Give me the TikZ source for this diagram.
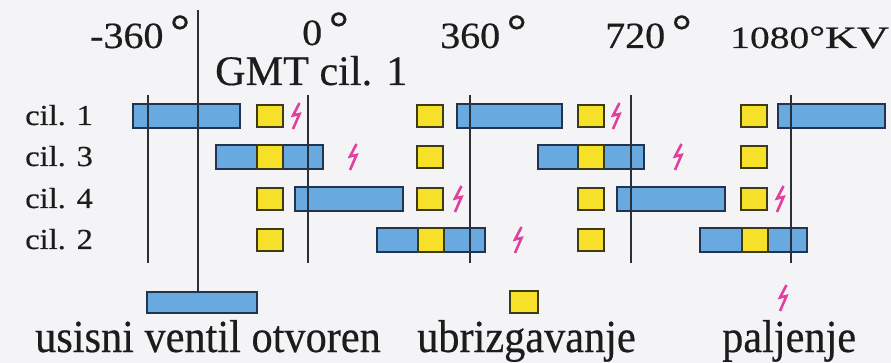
\documentclass[tikz,border=0pt]{standalone}
\usepackage{fontspec}
\setmainfont{Liberation Serif}
\newfontfamily\txtf{Liberation Serif}[FakeBold=0.45]
\definecolor{barblue}{RGB}{104,170,224}
\definecolor{barline}{RGB}{32,52,82}
\definecolor{injyellow}{RGB}{246,224,40}
\definecolor{injline}{RGB}{62,58,24}
\definecolor{boltpink}{RGB}{226,64,160}
\definecolor{axisline}{RGB}{40,48,60}
\definecolor{bgcol}{RGB}{244,244,246}
\definecolor{txt}{RGB}{28,28,28}
\newcommand{\dgr}{\raisebox{2pt}{\fontsize{46}{46}\selectfont °}}
\tikzset{
  valve/.style={rectangle, draw=barline, fill=barblue, line width=1.6pt,
    minimum width=#1, minimum height=24pt, inner sep=0pt},
  inj/.style={rectangle, draw=injline, fill=injyellow, line width=1.6pt,
    minimum width=26pt, minimum height=22pt, inner sep=0pt},
  injin/.style={inj, minimum height=24pt},
  bolt/.style={rectangle, minimum width=16pt, minimum height=32pt, inner sep=0pt,
    path picture={\begin{scope}[shift={(path picture bounding box.center)}, x=1pt, y=1pt]
      \draw[boltpink, line width=2.6pt, line join=miter]
        (3.5,13) -- (-3,0.5) -- (3.5,2) -- (-3,-13);
    \end{scope}}},
  axisln/.style={draw=axisline, line width=1.8pt},
  toplbl/.style={inner sep=0pt, anchor=base west, text=txt, xscale=1.08,
    font={\txtf\fontsize{37}{40}\selectfont}},
  rowlbl/.style={inner sep=0pt, anchor=base west, text=txt, xscale=1.12,
    font={\txtf\fontsize{29}{32}\selectfont}},
  leglbl/.style={inner sep=0pt, anchor=base west, text=txt, xscale=0.92,
    font={\txtf\fontsize{46}{50}\selectfont}}
}
\begin{document}
\begin{tikzpicture}[x=1pt,y=-1pt]
\fill[bgcol] (0,0) rectangle (891,363);
\useasboundingbox (0,0) rectangle (891,363);

% top labels
\node[toplbl] (lm360) at (90,48) {-360\,\dgr};
\node[toplbl, text depth=0pt] (l0) at (302,45) {0\,\dgr};
\node[toplbl, xscale=0.93, text height=28pt, font={\txtf\fontsize{42}{44}\selectfont}] (gmt) at (215,85) {GMT cil. 1};
\node[toplbl] (l360) at (440,48) {360\,\dgr};
\node[toplbl] (l720) at (605,48) {720\,\dgr};
\node[toplbl, xscale=1.18, font={\txtf\fontsize{31}{34}\selectfont}] (l1080) at (730,48) {1080\raisebox{1pt}{°}\scalebox{1.12}[1]{KV}};

% row labels
\node[rowlbl] (c1) at (25,125) {cil. 1};
\node[rowlbl] (c3) at (25,166) {cil. 3};
\node[rowlbl] (c4) at (25,208) {cil. 4};
\node[rowlbl] (c2) at (25,249) {cil. 2};

% cil. 1 (y=116)
\node[valve=107pt] (v1a) at (186.5,116) {};
\node[valve=105pt] (v1b) at (509.5,116) {};
\node[valve=107pt] (v1c) at (831.5,116) {};
\node[inj] (i1a) at (270,116) {};
\node[inj] (i1b) at (430,116) {};
\node[inj] (i1c) at (591,116) {};
\node[inj] (i1d) at (754,116) {};
\node[bolt] (z1a) at (296,116) {};
\node[bolt] (z1b) at (616,116) {};

% cil. 3 (y=157)
\node[valve=107pt] (v3a) at (269.5,157) {};
\node[valve=106pt] (v3b) at (591,157) {};
\node[injin] (i3a) at (270,157) {};
\node[inj] (i3b) at (430,157) {};
\node[injin] (i3c) at (591,157) {};
\node[inj] (i3d) at (754,157) {};
\node[bolt] (z3a) at (353,157) {};
\node[bolt] (z3b) at (678,157) {};

% cil. 4 (y=199)
\node[valve=108pt] (v4a) at (349,199) {};
\node[valve=108pt] (v4b) at (671,199) {};
\node[inj] (i4a) at (270,199) {};
\node[inj] (i4b) at (430,199) {};
\node[inj] (i4c) at (591,199) {};
\node[inj] (i4d) at (754,199) {};
\node[bolt] (z4a) at (458,199) {};
\node[bolt] (z4b) at (780,199) {};

% cil. 2 (y=240)
\node[valve=108pt] (v2a) at (431,240) {};
\node[valve=107pt] (v2b) at (753.5,240) {};
\node[inj] (i2a) at (270,240) {};
\node[injin] (i2b) at (431,240) {};
\node[inj] (i2c) at (591,240) {};
\node[injin] (i2d) at (755,240) {};
\node[bolt] (z2a) at (518,240) {};

% legend
\node[valve=110pt, minimum height=21pt] (legv) at (202,302.5) {};
\node[inj, minimum width=28pt] (legi) at (524,302) {};
\node[bolt] (legz) at (783,298) {};
\node[leglbl] (tv) at (35,352) {usisni ventil otvoren};
\node[leglbl] (ti) at (417,352) {ubrizgavanje};
\node[leglbl] (tz) at (722,352) {paljenje};

% vertical lines
\coordinate (a1t) at (148,95);  \coordinate (a1b) at (148,263);
\coordinate (a2t) at (308,95);  \coordinate (a2b) at (308,263);
\coordinate (a3t) at (470,95);  \coordinate (a3b) at (470,263);
\coordinate (a4t) at (631,95);  \coordinate (a4b) at (631,263);
\coordinate (a5t) at (791,95);  \coordinate (a5b) at (791,263);
\coordinate (axt) at (198,10);
\draw[axisln] (a1t) -- (a1b);
\draw[axisln] (a2t) -- (a2b);
\draw[axisln] (a3t) -- (a3b);
\draw[axisln] (a4t) -- (a4b);
\draw[axisln] (a5t) -- (a5b);
\draw[axisln] (axt) -- (axt |- legv.north);
\end{tikzpicture}
\end{document}
